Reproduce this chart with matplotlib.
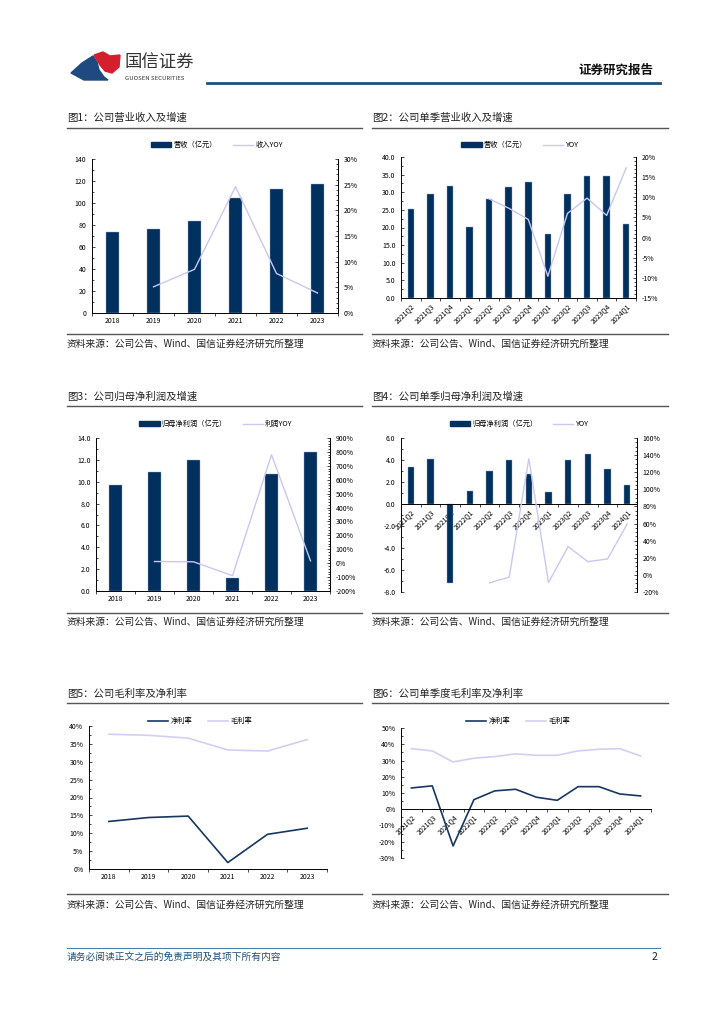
import matplotlib
matplotlib.use('Agg')
import matplotlib.pyplot as plt
from matplotlib.patches import Polygon
from matplotlib.lines import Line2D
from matplotlib.ticker import FixedLocator, MultipleLocator, FuncFormatter

plt.rcParams['font.family'] = ['Noto Sans CJK SC', 'DejaVu Sans']
plt.rcParams['axes.unicode_minus'] = False

# ---- data ----
years = ['2018', '2019', '2020', '2021', '2022', '2023']
quarters = ['2021Q2', '2021Q3', '2021Q4', '2022Q1', '2022Q2', '2022Q3',
            '2022Q4', '2023Q1', '2023Q2', '2023Q3', '2023Q4', '2024Q1']

revenue = [73.5, 76.6, 83.9, 104.5, 112.8, 117.3]
revenue_yoy = [None, 5.1, 8.5, 24.6, 7.7, 3.9]

q_revenue = [25.3, 29.5, 31.7, 20.1, 28.0, 31.6, 32.9, 18.1, 29.5, 34.7, 34.7, 21.1]
q_revenue_yoy = [None, None, None, None, 9.6, 7.3, 4.5, -9.6, 6.0, 9.8, 5.5, 17.3]

profit = [9.71, 10.88, 11.98, 1.19, 10.72, 12.71]
profit_yoy = [None, 12, 10, -90, 780, 17]

q_profit = [3.35, 4.13, -7.18, 1.21, 3.02, 3.98, 2.72, 1.09, 4.01, 4.59, 3.14, 1.72]
q_profit_yoy = [None, None, None, None, -9.3, -2.7, 135.8, -8.9, 33.0, 15.5, 18.6, 59.3]

net_margin = [13.3, 14.4, 14.8, 1.8, 9.7, 11.4]
gross_margin = [37.7, 37.4, 36.6, 33.3, 33.0, 36.2]

q_net_margin = [13.1, 14.4, -22.6, 5.9, 11.3, 12.3, 7.4, 5.5, 13.9, 13.9, 9.4, 8.2]
q_gross_margin = [37.3, 35.9, 29.1, 31.4, 32.4, 34.1, 33.2, 33.2, 35.9, 36.9, 37.3, 32.8]

NAVY = '#00305E'
LAV = '#C8C8F2'
W, H = 724, 1024

fig = plt.figure(figsize=(W / 100, H / 100), dpi=100)


def fx(x):
    return x / W


def fy(y):
    return 1 - y / H


def add_ax(x0, y0, x1, y1):
    return fig.add_axes([fx(x0), fy(y1), (x1 - x0) / W, (y1 - y0) / H])


def hline(x0, x1, y, color='#444444', lw=1.0):
    fig.add_artist(Line2D([fx(x0), fx(x1)], [fy(y), fy(y)], color=color, lw=lw))


def text(x, y, s, **kw):
    fig.text(fx(x), fy(y), s, va='center', **kw)


def style_axes(ax, n, zero_axis=False):
    if zero_axis:
        # must come before tick labels are set, it resets the ticks
        ax.spines['bottom'].set_position(('data', 0))
    ax.set_xlim(-0.5, n - 0.5)
    ax.spines['top'].set_visible(False)
    ax.xaxis.set_major_locator(FixedLocator(range(n)))
    ax.xaxis.set_minor_locator(FixedLocator([i + 0.5 for i in range(-1, n)]))
    ax.tick_params(axis='x', which='major', length=0, labelsize=5, pad=3)
    ax.tick_params(axis='x', which='minor', length=2, direction='out', width=0.5)
    ax.tick_params(axis='y', which='both', direction='in', labelsize=5, width=0.5, pad=4)
    ax.tick_params(axis='y', which='major', length=2.5)
    ax.tick_params(axis='y', which='minor', length=1.5)
    for s in ax.spines.values():
        s.set_linewidth(0.7)


def set_cats(ax, cats, rotate):
    ax.set_xticklabels(cats)
    if rotate:
        for t in ax.get_xticklabels():
            t.set_rotation(45)
            t.set_ha('right')
            t.set_rotation_mode('anchor')


def legend(x, y, handles, labels):
    fig.legend(handles, labels, loc='center', bbox_to_anchor=(fx(x), fy(y)), ncol=2,
               frameon=False, fontsize=5.2, handlelength=2.8, handleheight=0.6,
               columnspacing=2.2, handletextpad=0.3)


def pct_fmt(v, pos):
    return f'{v:.0f}%'


def bar_line_chart(box, cats, bars, yoy, ylim, ystep, yfmt, rlim, rstep, rminor,
                   labels, legend_xy, rotate=False, zero_axis=False, bw=0.33):
    ax = add_ax(*box)
    n = len(cats)
    ax.bar(range(n), bars, width=bw, color=NAVY, edgecolor='#9aa6c4', linewidth=0.3, zorder=2)
    style_axes(ax, n, zero_axis)
    ax.set_ylim(*ylim)
    ax.yaxis.set_major_locator(MultipleLocator(ystep))
    ax.yaxis.set_minor_locator(MultipleLocator(ystep / 2))
    ax.yaxis.set_major_formatter(FuncFormatter(lambda v, p: format(v, yfmt)))
    set_cats(ax, cats, rotate)
    ax2 = ax.twinx()
    ax2.set_ylim(*rlim)
    ax2.yaxis.set_major_locator(MultipleLocator(rstep))
    ax2.yaxis.set_minor_locator(MultipleLocator(rminor))
    ax2.yaxis.set_major_formatter(FuncFormatter(pct_fmt))
    ax2.tick_params(axis='y', which='both', direction='in', labelsize=5, width=0.5, pad=4)
    ax2.tick_params(axis='y', which='major', length=2.5)
    ax2.tick_params(axis='y', which='minor', length=1.5)
    ax2.spines['top'].set_visible(False)
    ax2.spines['bottom'].set_visible(False)
    ax2.spines['left'].set_visible(False)
    ax2.spines['right'].set_linewidth(0.7)
    xs = [i for i, v in enumerate(yoy) if v is not None]
    vs = [v for v in yoy if v is not None]
    ax2.plot(xs, vs, color=LAV, lw=1.0, zorder=3)
    hb = plt.Rectangle((0, 0), 1, 1, color=NAVY)
    hl = Line2D([0], [0], color=LAV, lw=1.0)
    legend(legend_xy[0], legend_xy[1], [hb, hl], labels)
    return ax


def margin_chart(box, cats, net, gross, ylim, ystep, legend_xy, rotate=False):
    ax = add_ax(*box)
    n = len(cats)
    ax.plot(range(n), gross, color='#D0D0F2', lw=1.2)
    ax.plot(range(n), net, color='#17375F', lw=1.2)
    style_axes(ax, n, zero_axis=rotate)
    ax.spines['right'].set_visible(False)
    ax.set_ylim(*ylim)
    ax.yaxis.set_major_locator(MultipleLocator(ystep))
    ax.yaxis.set_minor_locator(MultipleLocator(ystep / 2))
    ax.yaxis.set_major_formatter(FuncFormatter(pct_fmt))
    set_cats(ax, cats, rotate)
    h1 = Line2D([0], [0], color='#17375F', lw=1.2)
    h2 = Line2D([0], [0], color='#D0D0F2', lw=1.2)
    legend(legend_xy[0], legend_xy[1], [h1, h2], ['净利率', '毛利率'])
    return ax


# ---- header ----
blue_shape = Polygon([(fx(71), fy(73)), (fx(82), fy(63)), (fx(93), fy(56)), (fx(97), fy(62)),
                      (fx(99), fy(70)), (fx(104), fy(77)), (fx(108), fy(80)), (fx(84), fy(80))],
                     closed=True, color='#1F4A80', transform=fig.transFigure)
red_shape = Polygon([(fx(94), fy(55)), (fx(103), fy(52)), (fx(110), fy(56)), (fx(120), fy(55)),
                     (fx(119), fy(67)), (fx(112), fy(73)), (fx(105), fy(71)), (fx(100), fy(65))],
                    closed=True, color='#D4202E', transform=fig.transFigure)
fig.add_artist(blue_shape)
fig.add_artist(red_shape)
text(124, 63, '国信证券', fontsize=12.5, color='#333333')
text(125, 78, 'GUOSEN SECURITIES', fontsize=4.3, color='#333333')
text(578, 70, '证券研究报告', fontsize=9, fontweight='bold', color='#111111')
hline(207, 660, 83, color='#1F4E79', lw=2.0)

# ---- titles, rules, sources ----
panels_x = [(67, 362), (372, 668)]
rows = [(118, 128, 334, 344, ['图1：公司营业收入及增速', '图2：公司单季营业收入及增速']),
        (397, 406, 613, 622, ['图3：公司归母净利润及增速', '图4：公司单季归母净利润及增速']),
        (694, 703, 894, 905, ['图5：公司毛利率及净利率', '图6：公司单季度毛利率及净利率'])]
src = '资料来源：公司公告、Wind、国信证券经济研究所整理'
for ty, ly, sy, st, titles in rows:
    for (x0, x1), t in zip(panels_x, titles):
        text(x0, ty, t, fontsize=7.5, color='#222222')
        hline(x0, x1, ly, color='#555555', lw=1.0)
        hline(x0, x1, sy, color='#555555', lw=1.0)
        text(x0, st, src, fontsize=7, color='#222222')

# ---- charts ----
bar_line_chart((92, 159, 338, 313), years, revenue, revenue_yoy, (0, 140), 20, '.0f',
               (0, 30), 5, 1, ['营收（亿元）', '收入YOY'], (217, 145))
bar_line_chart((401, 157, 636, 298), quarters, q_revenue, q_revenue_yoy, (0, 40), 5, '.1f',
               (-15, 20), 5, 1, ['营收（亿元）', 'YOY'], (520, 145), rotate=True)
bar_line_chart((96, 438, 330, 591), years, profit, profit_yoy, (0, 14), 2, '.1f',
               (-200, 900), 100, 20, ['归母净利润（亿元）', '利润YOY'], (216, 424))
bar_line_chart((401, 438, 637, 592), quarters, q_profit, q_profit_yoy, (-8, 6), 2, '.1f',
               (-20, 160), 20, 5, ['归母净利润（亿元）', 'YOY'], (519, 424),
               rotate=True, zero_axis=True)
margin_chart((89, 726, 327, 869), years, net_margin, gross_margin, (0, 40), 5, (200, 721))
margin_chart((401, 728, 651, 858), quarters, q_net_margin, q_gross_margin, (-30, 50), 10,
             (518, 721), rotate=True)

# ---- footer ----
hline(67, 660, 948, color='#4F7FAF', lw=0.8)
text(67, 957, '请务必阅读正文之后的免责声明及其项下所有内容', fontsize=7, color='#1F4E79',
     style='italic')
text(652, 957, '2', fontsize=7.5, color='#222222')

fig.savefig('out.png', dpi=100)
